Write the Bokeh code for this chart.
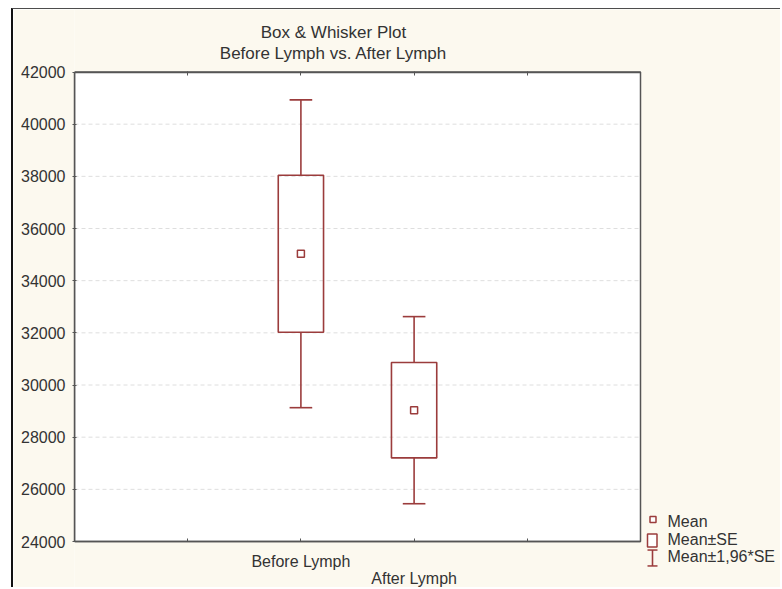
from bokeh.plotting import figure
from bokeh.models import Range1d, FixedTicker, LinearAxis, Label, BoxAnnotation
from bokeh.embed import file_html
from bokeh.resources import INLINE

# Data: mean and standard error per group
categories = ["Before Lymph", "After Lymph"]
means = [35030, 29035]
std_errors = [3010, 1830]
z_value = 1.96

y_ticks = [24000, 26000, 28000, 30000, 32000, 34000, 36000, 38000, 40000, 42000]
title_lines = ["Box & Whisker Plot", "Before Lymph vs. After Lymph"]
legend_labels = ["Mean", "Mean\u00b1SE", "Mean\u00b11,96*SE"]

FONT = "Liberation Sans"
TEXT = "#333333"
RED = "#9b3c3c"
AXIS = "#555555"
CREAM = "#fcf9ef"

# canvas sits inside a thin page frame (top/left rules)
W, H = 769, 579
X0, X1 = 0, 5            # chart area in data units
Y0, Y1 = y_ticks[0], y_ticks[-1]
PX_X = 113.2             # pixels per x unit
PX_Y = 469.5 / (Y1 - Y0)  # pixels per y unit

# the frame spans the whole canvas right of the y axis, so the title and legend
# (drawn in canvas units) stay inside it; the chart area is a white box within
p = figure(width=W, height=H, output_backend="svg", toolbar_location=None,
           x_range=Range1d(X0, X1 + 142 / PX_X),
           y_range=Range1d(Y0 - 47 / PX_Y, Y1 + 62.5 / PX_Y),
           x_axis_location=None, y_axis_location=None,
           min_border_left=61, min_border_right=0, min_border_top=0, min_border_bottom=0)
p.margin = (8, 0, 0, 11)
p.styles = {"border-top": "1.5px solid #4d4d4d", "border-left": "2px solid #111111"}
p.border_fill_color = CREAM
p.background_fill_color = CREAM
p.outline_line_color = None
p.xgrid.visible = False
p.ygrid.visible = False

p.add_layout(BoxAnnotation(left=X0, right=X1, bottom=Y0, top=Y1, fill_color="white", fill_alpha=1,
                           line_color=AXIS, line_width=1.5, line_alpha=1, level="image"))

# horizontal reference lines across the chart area
inner = y_ticks[1:-1]
p.segment(x0=[X0] * len(inner), y0=inner, x1=[X1] * len(inner), y1=inner,
          line_color="#dedede", line_width=1, line_dash="4 3")

# axes
left = LinearAxis(ticker=FixedTicker(ticks=y_ticks), bounds=(Y0, Y1))
bottom = LinearAxis(ticker=FixedTicker(ticks=[2, 3], minor_ticks=[1, 4]),
                    bounds=(X0, X1), fixed_location=Y0)
top = LinearAxis(ticker=FixedTicker(ticks=[1, 2, 3, 4]), bounds=(X0, X1), fixed_location=Y1)
for ax in (left, bottom, top):
    ax.axis_line_color = AXIS
    ax.axis_line_width = 1.5
    ax.major_tick_line_color = AXIS
    ax.minor_tick_line_color = None
    ax.major_label_text_font = FONT
    ax.major_label_text_font_size = "16px"
    ax.major_label_text_color = TEXT
left.major_tick_in = 2
left.major_tick_out = 2
left.major_label_standoff = 7
bottom.major_tick_in = 3
bottom.major_tick_out = 0
bottom.minor_tick_line_color = AXIS
bottom.minor_tick_in = 3
bottom.minor_tick_out = 0
bottom.major_label_standoff = 11
bottom.major_label_text_line_height = 1.05
bottom.major_label_overrides = {2: categories[0], 3: "\n" + categories[1]}
top.major_tick_in = 3
top.major_tick_out = 1
top.major_label_text_color = None
p.add_layout(left, "left")
p.add_layout(bottom, "below")
p.add_layout(top, "above")

# box-and-whisker marks
xs = [i + 2 for i in range(len(categories))]
box_lo = [m - s for m, s in zip(means, std_errors)]
box_hi = [m + s for m, s in zip(means, std_errors)]
wh_lo = [m - z_value * s for m, s in zip(means, std_errors)]
wh_hi = [m + z_value * s for m, s in zip(means, std_errors)]
box_w = 0.4
cap_w = 0.2
LW = 1.6

p.segment(x0=xs, y0=box_hi, x1=xs, y1=wh_hi, line_color=RED, line_width=LW)
p.segment(x0=xs, y0=box_lo, x1=xs, y1=wh_lo, line_color=RED, line_width=LW)
p.segment(x0=[x - cap_w / 2 for x in xs], y0=wh_hi, x1=[x + cap_w / 2 for x in xs], y1=wh_hi,
          line_color=RED, line_width=LW)
p.segment(x0=[x - cap_w / 2 for x in xs], y0=wh_lo, x1=[x + cap_w / 2 for x in xs], y1=wh_lo,
          line_color=RED, line_width=LW)
p.quad(left=[x - box_w / 2 for x in xs], right=[x + box_w / 2 for x in xs],
       bottom=box_lo, top=box_hi, fill_color=None, line_color=RED, line_width=LW)
p.scatter(x=xs, y=means, marker="square", size=7, fill_color="white",
          line_color=RED, line_width=1.5)

# title (canvas units)
for text, y in zip(title_lines, [21.5, 42.5]):
    p.add_layout(Label(x=318, y=y, x_units="canvas", y_units="canvas", text=text,
                       text_align="center", text_baseline="middle", text_font=FONT,
                       text_font_size="17px", text_color=TEXT))

# legend (canvas units)
def key_box(l, r, t, b, **kw):
    return BoxAnnotation(left=l, right=r, top=t, bottom=b, left_units="canvas", right_units="canvas",
                         top_units="canvas", bottom_units="canvas", level="overlay", **kw)

p.add_layout(key_box(634.5, 640.5, 506, 512, fill_color="white", fill_alpha=1,
                     line_color=RED, line_width=1.5, line_alpha=1))
p.add_layout(key_box(632, 641.5, 523.5, 536.5, fill_color="white", fill_alpha=1,
                     line_color=RED, line_width=1.5, line_alpha=1))
p.add_layout(key_box(636.2, 637.8, 539.5, 555.5, fill_color=RED, fill_alpha=1, line_color=None))
p.add_layout(key_box(632, 642, 538.8, 540.3, fill_color=RED, fill_alpha=1, line_color=None))
p.add_layout(key_box(632, 642, 554.7, 556.2, fill_color=RED, fill_alpha=1, line_color=None))
for text, y in zip(legend_labels, [510.5, 528.5, 545.5]):
    p.add_layout(Label(x=652, y=y, x_units="canvas", y_units="canvas", text=text,
                       text_align="left", text_baseline="middle", text_font=FONT,
                       text_font_size="16px", text_color=TEXT))

open("out.html", "w").write(file_html(p, INLINE))
